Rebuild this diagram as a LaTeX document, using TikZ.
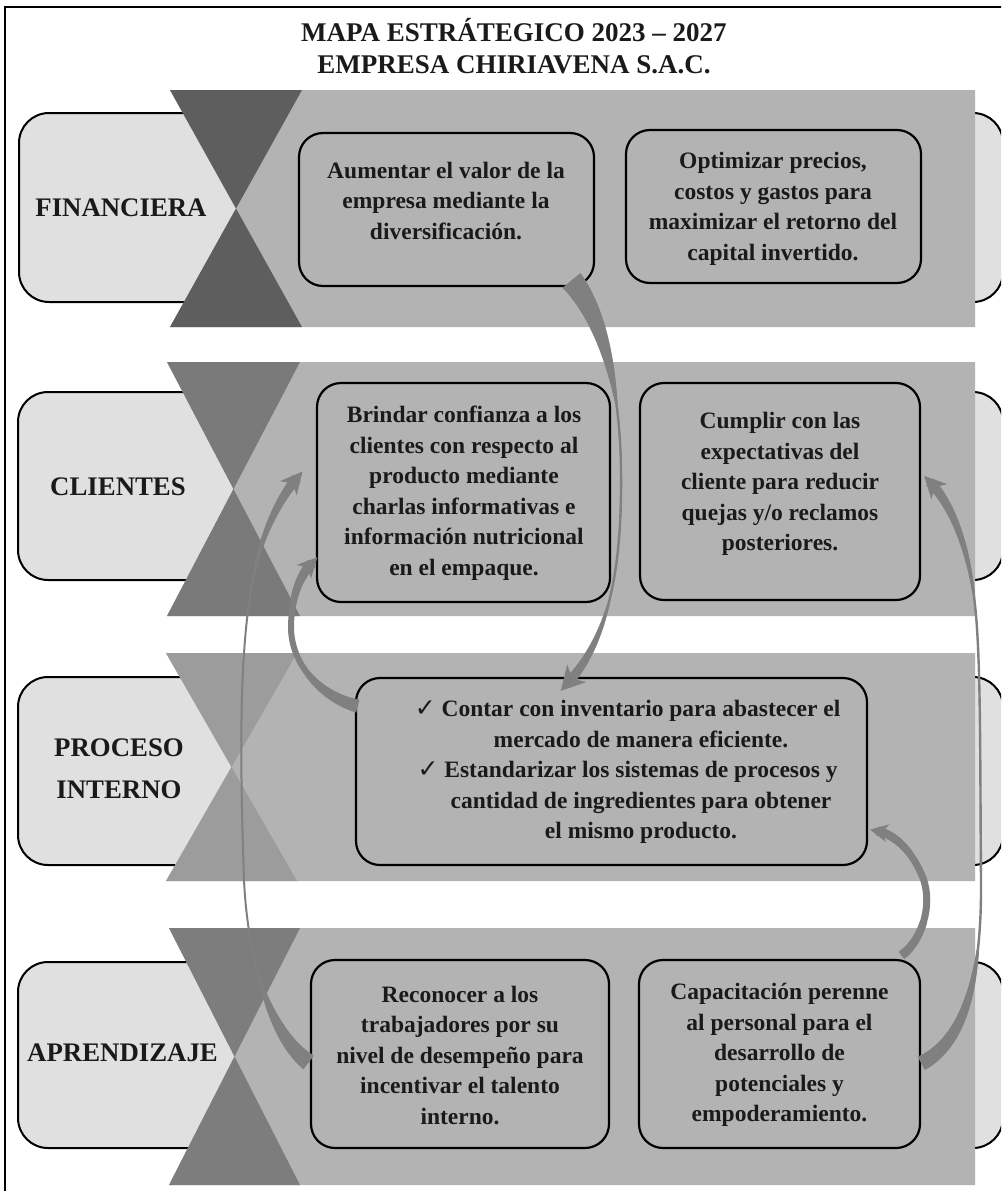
\documentclass[tikz,border=0pt]{standalone}
\usepackage{fontspec}
\setmainfont{Liberation Serif}
\newfontfamily\symf{DejaVu Sans}
\usetikzlibrary{decorations.markings}
\definecolor{lightfill}{HTML}{E0E0E0}
\definecolor{bandfill}{HTML}{B3B3B3}
\definecolor{triA}{HTML}{5E5E5E}
\definecolor{triB}{HTML}{7A7A7A}
\definecolor{triC}{HTML}{9C9C9C}
\definecolor{triD}{HTML}{7D7D7D}
\definecolor{arrowgray}{HTML}{808080}
\definecolor{ink}{HTML}{1A1A1A}
\newcommand\myband[5]{%
  \fill[bandfill] (#3,#1) -- (975,#1) -- (975,#2) -- (#3,#2) -- ({(#3+#4)/2},{(#1+#2)/2}) -- cycle;
  \fill[#5] (#3,#1) -- (#4,#1) -- ({(#3+#4)/2},{(#1+#2)/2}) -- cycle;
  \fill[#5] (#3,#2) -- (#4,#2) -- ({(#3+#4)/2},{(#1+#2)/2}) -- cycle;}
\tikzset{
  tapertail/.style n args={3}{postaction={decorate, decoration={markings,
     mark=between positions 0 and #3pt step 1pt with {%
       \pgfmathsetmacro\tw{#2+(#1-#2)*max(0,1-\pgfkeysvalueof{/pgf/decoration/mark info/distance from start}/#3)}%
       \fill[arrowgray] (-0.8,-\tw) rectangle (0.8,\tw);}}}},
  taperhead/.style n args={3}{postaction={decorate, decoration={markings,
     mark=between positions -#3pt and 1 step 1pt with {%
       \pgfmathsetmacro\tw{#2+(#1-#2)*min(1,(\pgfkeysvalueof{/pgf/decoration/mark info/sequence number}-1)/#3)}%
       \fill[arrowgray] (-0.8,-\tw) rectangle (0.8,\tw);}}}},
  tiphead/.style n args={2}{postaction={decorate, decoration={markings,
     mark=at position 0.9995 with {\fill[arrowgray] ({0.4*#1},0) -- ({-0.6*#1},#2) -- ({-0.3*#1},0) -- ({-0.6*#1},-#2) -- cycle;}}}},
  curvarrow/.style={draw=arrowgray, line width=#1},
}
\begin{document}
\begin{tikzpicture}[x=1pt,y=-1pt,
  lightbox/.style={draw=black, line width=2pt, fill=lightfill, rounded corners=30pt, inner sep=0pt},
  objbox/.style={draw=black, line width=2.2pt, rounded corners=24pt, inner sep=0pt},
  boxtext/.style={font=\bfseries\fontsize{23.5}{30.5}\selectfont, align=center, text=ink, inner sep=0pt},
  lbl/.style={font=\bfseries\fontsize{26.8}{42}\selectfont, align=center, text=ink, inner sep=0pt},
  ttl/.style={font=\bfseries\fontsize{27}{32}\selectfont, align=center, text=ink, inner sep=0pt}]
\useasboundingbox (0,0) rectangle (1001,1191);
\clip (0,0) rectangle (1001,1191);
\draw[line width=1.3pt] (5,1200) -- (5,7) -- (1010,7);

\node[ttl] (title) at (514,46) {MAPA ESTRÁTEGICO 2023 – 2027\\EMPRESA CHIRIAVENA S.A.C.};

% light bars
\node[lightbox, minimum width=984pt, minimum height=189pt] (r1) at (511,207.5) {};
\node[lightbox, minimum width=985pt, minimum height=188pt] (r2) at (510.5,486) {};
\node[lightbox, minimum width=985pt, minimum height=188pt] (r3) at (510.5,771) {};
\node[lightbox, minimum width=985pt, minimum height=186pt] (r4) at (510.5,1055) {};

% bands with hourglass
\myband{90}{327}{170}{302}{triA}
\myband{362}{616}{167}{300}{triB}
\myband{653}{881}{166}{297}{triC}
\myband{928}{1185}{169}{300}{triD}

% row labels
\node[lbl] (l1) at (121,208) {FINANCIERA};
\node[lbl] (l2) at (118,487) {CLIENTES};
\node[lbl] (l3) at (119,769) {PROCESO\\INTERNO};
\node[lbl] (l4) at (122.5,1053) {APRENDIZAJE};

% objective boxes
\node[objbox, minimum width=295pt, minimum height=153pt] (b11) at (446.5,209.5) {};
\node[objbox, minimum width=295pt, minimum height=153pt] (b12) at (773.5,206.5) {};
\node[objbox, minimum width=293pt, minimum height=219pt] (b21) at (463.5,492.5) {};
\node[objbox, minimum width=280pt, minimum height=217pt] (b22) at (780,491.5) {};
\node[objbox, minimum width=511pt, minimum height=187pt] (b31) at (611.5,771.5) {};
\node[objbox, minimum width=298pt, minimum height=188pt] (b41) at (460,1054) {};
\node[objbox, minimum width=281pt, minimum height=188pt] (b42) at (779.5,1054) {};

\node[boxtext] (t11) at (446,201) {Aumentar el valor de la\\empresa mediante la\\diversificación.};
\node[boxtext] (t12) at (773,209) {Optimizar precios,\\costos y gastos para\\maximizar el retorno del\\capital invertido.};
\node[boxtext] (t21) at (464,493) {Brindar confianza a los\\clientes con respecto al\\producto mediante\\charlas informativas e\\información nutricional\\en el empaque.};
\node[boxtext] (t22) at (780,484) {Cumplir con las\\expectativas del\\cliente para reducir\\quejas y/o reclamos\\posteriores.};
\node[boxtext] (t31) at (641,772) {\llap{{\symf\mdseries\fontsize{25}{20}\selectfont ✓}\ }Contar con inventario para abastecer el\\mercado de manera eficiente.\\\llap{{\symf\mdseries\fontsize{25}{20}\selectfont ✓}\ }Estandarizar los sistemas de procesos y\\cantidad de ingredientes para obtener\\el mismo producto.};
\node[boxtext] (t41) at (460,1055) {Reconocer a los\\trabajadores por su\\nivel de desempeño para\\incentivar el talento\\interno.};
\node[boxtext] (t42) at (779.5,1055) {Capacitación perenne\\al personal para el\\desarrollo de\\potenciales y\\empoderamiento.};

% arrow end points
\coordinate (aT) at (572,281);
\coordinate (aH) at (567,684);
\coordinate (bT) at (308,1062);
\coordinate (bH) at (297,478);
\coordinate (cT) at (357,706);
\coordinate (cH) at (312,563);
\coordinate (dT) at (922,1063);
\coordinate (dH) at (930,482);
\coordinate (eT) at (902,955);
\coordinate (eH) at (877,831);

% curved tapered arrows
\path[curvarrow=2.4pt, tapertail={11.5}{1.2}{130}, taperhead={5}{1.2}{90}, tiphead={24}{13}] (aT) .. controls (600,315) and (620,380) .. (621,470) .. controls (622,560) and (612,635) .. (aH);
\path[curvarrow=2pt, tapertail={8.5}{1}{100}, taperhead={5}{1}{110}, tiphead={22}{11}] (bT) .. controls (272,1035) and (248,965) .. (244,880) .. controls (240,760) and (238,640) .. (256,565) .. controls (264,530) and (280,498) .. (bH);
\path[curvarrow=6pt, tapertail={6.5}{3}{60}, taperhead={5}{3}{50}, tiphead={20}{10}] (cT) .. controls (322,697) and (290,665) .. (291,625) .. controls (292,598) and (298,578) .. (cH);
\path[curvarrow=2.4pt, tapertail={7.5}{1.2}{130}, taperhead={5}{1.2}{120}, tiphead={22}{11}] (dT) .. controls (962,1042) and (982,985) .. (981,880) .. controls (980,760) and (981,660) .. (975,605) .. controls (969,548) and (952,505) .. (dH);
\path[curvarrow=7pt, tapertail={4.5}{3.5}{40}, taperhead={4.5}{3.5}{40}, tiphead={18}{9}] (eT) .. controls (922,940) and (933,905) .. (923,878) .. controls (913,853) and (897,835) .. (eH);
\end{tikzpicture}
\end{document}
